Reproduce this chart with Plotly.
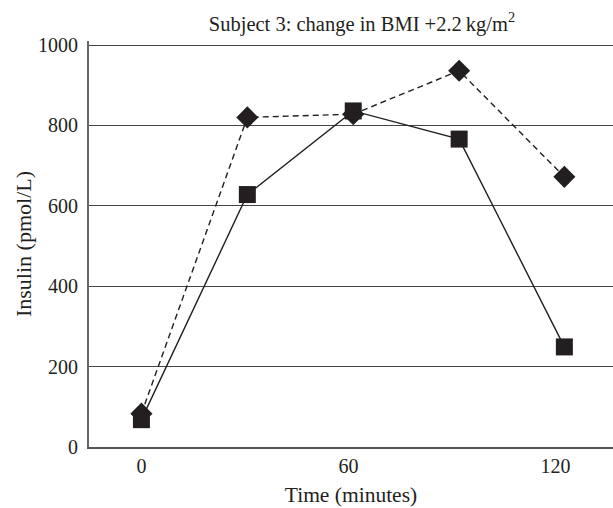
import plotly.graph_objects as go

time_min = [0, 30.7, 61.4, 92.1, 122.6]
insulin_square = [68, 628, 836, 766, 249]
insulin_diamond = [83, 820, 828, 936, 672]
x_ticks = [0, 60, 120]
y_ticks = [0, 200, 400, 600, 800, 1000]

ink = "#231f20"
font = "Liberation Serif, Times New Roman, serif"

fig = go.Figure()
fig.add_trace(go.Scatter(
    x=time_min, y=insulin_diamond, mode="lines+markers",
    line=dict(color=ink, width=1.4, dash="6px,4px"),
    marker=dict(symbol="diamond", size=17, color=ink),
    showlegend=False))
fig.add_trace(go.Scatter(
    x=time_min, y=insulin_square, mode="lines+markers",
    line=dict(color=ink, width=1.4),
    marker=dict(symbol="square", size=17, color=ink),
    showlegend=False))

fig.update_layout(
    width=613, height=508,
    margin=dict(l=89, r=0, t=41, b=61),
    paper_bgcolor="white", plot_bgcolor="white",
    font=dict(family=font, size=20, color=ink),
    title=dict(text="Subject 3: change in BMI +2.2\u2009kg/m<sup>2</sup>",
               x=0.521, xref="paper", xanchor="center",
               y=0.953, yref="container", yanchor="middle",
               font=dict(family=font, size=20.5, color=ink)),
)
fig.update_xaxes(
    range=[-15.2, 136.7], tickvals=x_ticks, ticktext=[str(v) for v in x_ticks],
    showgrid=False, zeroline=False, showline=True, linecolor="#555", linewidth=1.5,
    ticks="", ticklabelstandoff=0, tickfont=dict(size=20),
    title=dict(text="Time (minutes)", standoff=11, font=dict(size=21.5)))
fig.update_yaxes(
    range=[0, 1010], tickvals=y_ticks, ticktext=[str(v) for v in y_ticks],
    showgrid=True, gridcolor="#444", gridwidth=1.3,
    zeroline=False, showline=True, linecolor="#666", linewidth=2,
    ticks="", ticklabelstandoff=5, tickfont=dict(size=20),
    title=dict(text="Insulin (pmol/L)", standoff=0, font=dict(size=22)))

fig.write_html("out.html", config={"displayModeBar": False},
               post_script="document.body.style.margin='0';")
